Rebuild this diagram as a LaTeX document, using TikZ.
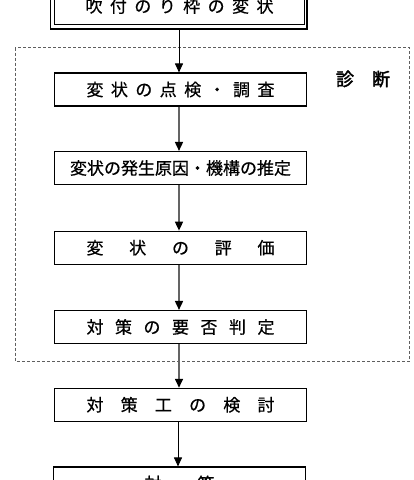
\documentclass[tikz,border=0pt]{standalone}
\usepackage{fontspec}
\newfontfamily\jp{Noto Sans CJK JP}[FakeBold=0.6]
\newfontfamily\jpbold{Noto Sans CJK JP}[FakeBold=2.2]
\usetikzlibrary{arrows.meta}
\definecolor{arrgray}{RGB}{100,100,100}
\definecolor{dashgray}{RGB}{95,95,95}
\makeatletter
\newcommand\distr[2]{\makebox[#1][s]{\let\ds@sep\relax\@tfor\ds@c:=#2\do{\ds@sep\ds@c\let\ds@sep\hfill}}}
\makeatother
\tikzset{
  stepbox/.style={draw=black, line width=1.1pt, minimum width=252pt, minimum height=33pt, inner sep=0pt, font=\jp\fontsize{17pt}{20pt}\selectfont},
  grayarrow/.style={draw=arrgray, line width=1.6pt, -{Triangle[length=9pt,width=8pt,color=black,fill=black]}},
  blackarrow/.style={draw=black, line width=0.9pt, -{Triangle[length=9pt,width=8pt,color=black,fill=black]}},
}
\begin{document}
\begin{tikzpicture}[x=1pt,y=-1pt]
\useasboundingbox (0,0) rectangle (414,480);
% diagnosis frame
\draw[dashgray, line width=1pt, dash pattern=on 3pt off 2pt] (15.3,47.7) rectangle (409.7,361);
\node[font=\jpbold\fontsize{18pt}{20pt}\selectfont] (lbl) at (363,79) {\distr{54pt}{診断}};
% top double box
\draw[line width=1.3pt] (50.7,-20) rectangle (307,29);
\draw[line width=1.0pt] (54.3,-16) rectangle (304,24.3);
\node[font=\jp\fontsize{17pt}{20pt}\selectfont, inner sep=0pt] (top) at (179.5,6) {\distr{188pt}{吹付のり枠の変状}};
\coordinate (topb) at (179,29);
% steps
\node[stepbox] (b1) at (180.5,89.5) {\distr{188pt}{変状の点検・調査}};
\node[stepbox] (b2) at (180.5,168) {変状の発生原因・機構の推定};
\node[stepbox] (b3) at (180.5,247.7) {\distr{188pt}{変状の評価}};
\node[stepbox] (b4) at (180.5,327) {\distr{188pt}{対策の要否判定}};
\node[stepbox] (b5) at (180.5,404.8) {\distr{188pt}{対策工の検討}};
\node[stepbox] (b6) at (179.5,483.5) {\distr{70pt}{対策}};
% connectors
\draw[blackarrow] (topb) -- (topb |- b1.north);
\draw[grayarrow] ([xshift=-1.5pt]b1.south) -- ([xshift=-1.5pt]b2.north);
\draw[grayarrow] ([xshift=-1.5pt]b2.south) -- ([xshift=-1.5pt]b3.north);
\draw[grayarrow] ([xshift=-1.5pt]b3.south) -- ([xshift=-1.5pt]b4.north);
\draw[grayarrow] ([xshift=-1.5pt]b4.south) -- ([xshift=-1.5pt]b5.north);
\draw[blackarrow] ([xshift=-2.5pt]b5.south) -- ([xshift=-1.5pt]b6.north);
\end{tikzpicture}
\end{document}
